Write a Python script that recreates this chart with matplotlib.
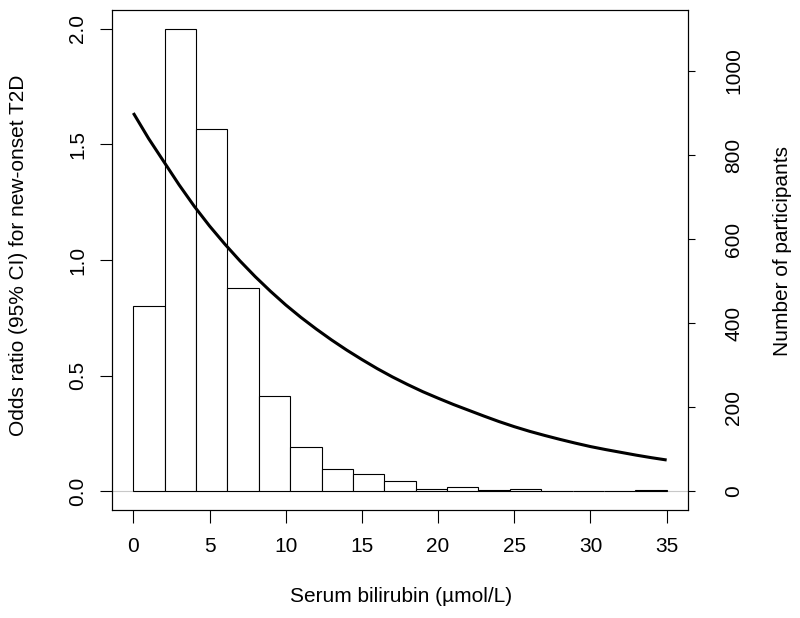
import numpy as np
import matplotlib
matplotlib.use("Agg")
import matplotlib.pyplot as plt

plt.rcParams['font.family'] = ['Liberation Sans', 'DejaVu Sans']

# histogram of serum bilirubin (17 bins from 0 to 35 umol/L)
bin_edges = np.linspace(0, 35, 18)
counts = [442, 1099, 861, 484, 227, 106, 53, 41, 24, 7, 11, 4, 7, 1, 2, 1, 3]

# fitted odds ratio curve at each 1 umol/L
bili_x = list(range(36))
odds_ratio = [1.635, 1.525, 1.425, 1.325, 1.232, 1.147, 1.069, 0.996, 0.928, 0.865,
              0.806, 0.752, 0.702, 0.655, 0.611, 0.570, 0.531, 0.495, 0.462, 0.431,
              0.403, 0.376, 0.351, 0.326, 0.302, 0.280, 0.260, 0.242, 0.225, 0.209,
              0.194, 0.181, 0.169, 0.157, 0.146, 0.136]

x_ticks = [0, 5, 10, 15, 20, 25, 30, 35]
or_ticks = [0.0, 0.5, 1.0, 1.5, 2.0]
count_ticks = [0, 200, 400, 600, 800, 1000]

fs = 15

fig = plt.figure(figsize=(8, 6.18), dpi=100)
ax = fig.add_axes([112 / 800, 108 / 618, 576 / 800, 500 / 618])
ax2 = ax.twinx()
ax.set_zorder(ax2.get_zorder() + 1)
ax.patch.set_visible(False)

# histogram on the right (count) axis
ax2.bar(bin_edges[:-1], counts, width=np.diff(bin_edges), align='edge',
        facecolor='white', edgecolor='black', linewidth=0.8)
ax2.axhline(0, color='#c8c8c8', linewidth=0.8, zorder=0)
ax2.set_ylim(-44, 1145)
ax2.set_yticks(count_ticks)
ax2.set_yticklabels([str(v) for v in count_ticks])

# odds ratio curve on the left axis
ax.plot(bili_x, odds_ratio, color='black', linewidth=2.2, solid_capstyle='butt')
ax.set_xlim(-1.4, 36.4)
ax.set_ylim(-0.08, 2.08)
ax.set_xticks(x_ticks)
ax.set_xticklabels([str(v) for v in x_ticks])
ax.set_yticks(or_ticks)
ax.set_yticklabels(["%.1f" % v for v in or_ticks])

for a in (ax, ax2):
    for s in a.spines.values():
        s.set_linewidth(0.8)

ax.tick_params(axis='x', length=9.5, width=0.8, pad=10, labelsize=fs)
ax.tick_params(axis='y', length=9, width=0.8, pad=9, labelsize=fs)
ax2.tick_params(axis='y', length=5, width=0.8, pad=21, labelsize=fs)
plt.setp(ax.get_yticklabels(), rotation=90, va='center')
plt.setp(ax2.get_yticklabels(), rotation=90, va='center')

fig.text(401 / 800, 1 - 596 / 618, "Serum bilirubin (\u00b5mol/L)",
         ha='center', va='center', fontsize=fs)
fig.text(19 / 800, 1 - 255 / 618, "Odds ratio (95% CI) for new-onset T2D",
         ha='center', va='center', rotation=90, fontsize=fs)
fig.text(782 / 800, 1 - 251 / 618, "Number of participants",
         ha='center', va='center', rotation=90, fontsize=fs)

fig.savefig("out.png", dpi=100)
